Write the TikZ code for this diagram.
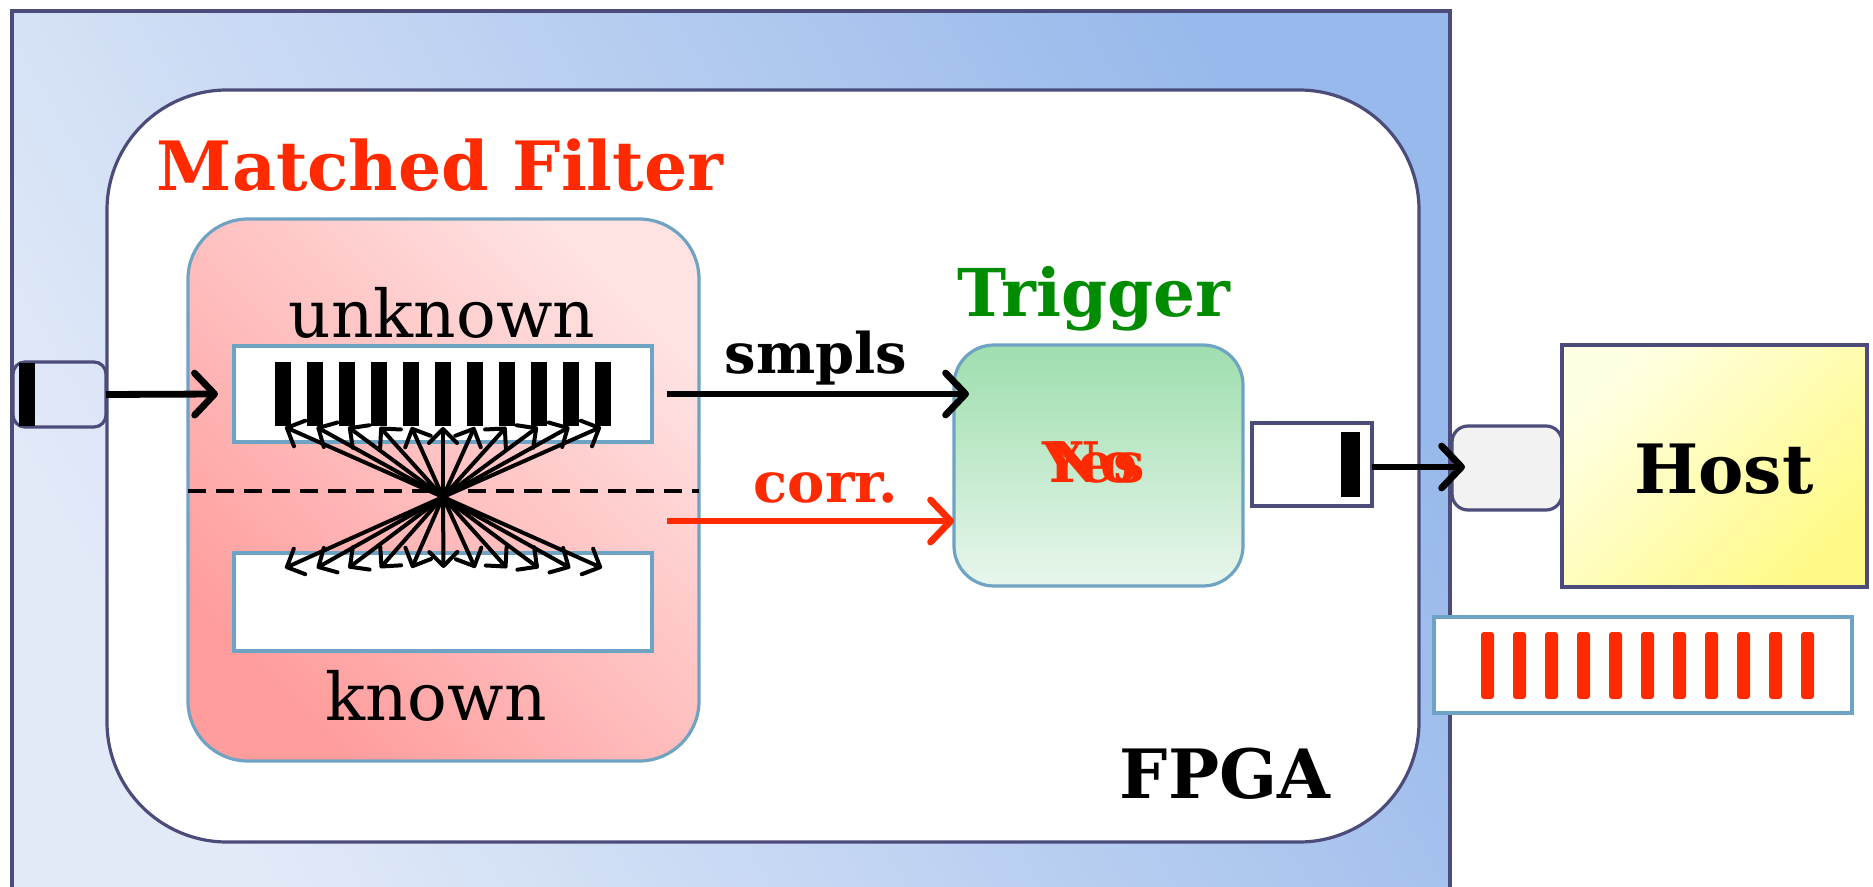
\documentclass[tikz,border=0pt]{standalone}
\usepackage{fontspec}
\setmainfont{DejaVu Serif}
\usetikzlibrary{arrows.meta}

\definecolor{frame}{HTML}{4C4C7A}
\definecolor{steel}{HTML}{6FA3C3}
\definecolor{sigred}{HTML}{FF2A00}
\definecolor{trig}{HTML}{008C00}
\definecolor{fpgalight}{HTML}{E2EAF8}
\definecolor{fpgadark}{HTML}{98B9EB}
\definecolor{pinkdark}{HTML}{FF9C9C}
\definecolor{pinklight}{HTML}{FFE2E2}
\definecolor{greentop}{HTML}{9EDEAE}
\definecolor{greenbot}{HTML}{E8F6EC}
\definecolor{yellight}{HTML}{FFFFE4}
\definecolor{yeldark}{HTML}{FFFA88}

\tikzset{
  box/.style={inner sep=0pt, outer sep=0pt},
  bufbox/.style={box, draw=steel, line width=1.6pt, fill=white},
  bar/.style={fill=black},
  redbar/.style={fill=sigred, rounded corners=1.5pt},
  flow/.style={line width=3.4pt, -{Straight Barb[length=10pt,width=21pt,round]}},
  fan/.style={line width=2pt, -{Straight Barb[length=7pt,width=14pt,round]}},
  title/.style={font=\bfseries, anchor=base},
}

\begin{document}
\begin{tikzpicture}[x=0.5pt, y=-0.5pt]
\useasboundingbox (0,0) rectangle (1873,887);
\clip (0,0) rectangle (1873,887);

% FPGA board and its inner area
\node[box, draw=frame, line width=2pt, left color=fpgalight, right color=fpgadark,
      shading angle=120, minimum width=719pt, minimum height=450pt]
      (fpga) at (731,461) {};
\node[box, draw=frame, line width=1.6pt, fill=white, rounded corners=60pt,
      minimum width=656pt, minimum height=376pt] (board) at (763,466) {};

% matched filter block
\node[box, draw=steel, line width=1.6pt, rounded corners=30pt,
      left color=pinkdark, right color=pinklight, shading angle=135,
      minimum width=255.5pt, minimum height=271pt] (mf) at (443.5,490) {};
\node[box] (mftitle) at (440,191) [title, text=sigred, font=\bfseries\fontsize{34}{38}\selectfont] {Matched Filter};

\node[bufbox, minimum width=209pt, minimum height=48pt] (unk) at (443,394) {};
\node[bufbox, minimum width=209pt, minimum height=49pt] (kno) at (443,602) {};
\node[anchor=base, font=\fontsize{33}{36}\selectfont] (unklabel) at (442,338) {unknown};
\node[anchor=base, font=\fontsize{33}{36}\selectfont] (knolabel) at (436,720) {known};

% samples held in the unknown buffer
\foreach \i in {0,...,10}
  \fill[bar] (275+32*\i,362) rectangle ++(16,64);

% separator between the two buffers
\draw[line width=2pt, dash pattern=on 9pt off 5pt] (mf.west |- 0,491) -- (mf.east |- 0,491);

% correlation fan
\coordinate (hub) at (443,497);
\foreach \i in {0,...,10} {
  \coordinate (up\i) at (285+31.6*\i,427);
  \coordinate (dn\i) at (285+31.7*\i,568);
  \draw[fan] (hub) -- (up\i);
  \draw[fan] (hub) -- (dn\i);
}

% input port
\node[box, draw=frame, line width=1.6pt, rounded corners=6pt,
      minimum width=46.5pt, minimum height=32.5pt] (inport) at (59.5,394.5) {};
\fill[bar] (19,363) rectangle (35,426);
\draw[flow] (inport.east) -- ([xshift=-8pt]unk.west);

% trigger block
\node[box, draw=steel, line width=1.6pt, rounded corners=20pt,
      top color=greentop, bottom color=greenbot,
      minimum width=144.5pt, minimum height=120.5pt] (trigbox) at (1098.5,465.5) {};
\node[title, text=trig, font=\bfseries\fontsize{33}{36}\selectfont] (triglabel) at (1094,317) {Trigger};
\node[title, text=sigred, font=\bfseries\fontsize{28}{30}\selectfont] (yes) at (1094,482) {Yes};
\node[title, text=sigred, font=\bfseries\fontsize{28}{30}\selectfont] (no) at (1094,482) {No};

\draw[flow] ([xshift=7.5pt]unk.east) -- ([xshift=7.5pt]unk.east -| trigbox.west);
\node[title, font=\bfseries\fontsize{28}{30}\selectfont] (smpls) at (816,374) {smpls};

\coordinate (corrstart) at (667,521);
\draw[flow, sigred] (corrstart) -- (corrstart -| trigbox.west);
\node[title, text=sigred, font=\bfseries\fontsize{28}{30}\selectfont] (corr) at (826,502) {corr.};

% output buffer
\node[box, draw=frame, line width=1.6pt, fill=white,
      minimum width=60pt, minimum height=41.5pt] (obuf) at (1312,464.5) {};
\fill[bar] (1341,432) rectangle (1360,497);

% host side
\node[box, draw=frame, line width=1.6pt, rounded corners=8pt, fill=black!5,
      minimum width=55pt, minimum height=42pt] (hport) at (1507,468) {};
\node[box, draw=frame, line width=1.6pt, left color=yellight, right color=yeldark,
      shading angle=45, minimum width=152.5pt, minimum height=121pt] (host) at (1714.5,466) {};
\node[title, font=\bfseries\fontsize{34}{36}\selectfont] (hostlabel) at (1724,493) {Host};
\draw[flow] (obuf.east |- 0,467) -- ([xshift=6.5pt]hport.west |- 0,467);

% samples handed to the host
\node[bufbox, minimum width=209pt, minimum height=48pt] (hostbuf) at (1643,665) {};
\foreach \i in {0,...,10}
  \fill[redbar] (1481+32*\i,632) rectangle ++(13,67);

\node[title, font=\bfseries\fontsize{34}{36}\selectfont] (fpgalabel) at (1225,798) {FPGA};
\end{tikzpicture}
\end{document}
